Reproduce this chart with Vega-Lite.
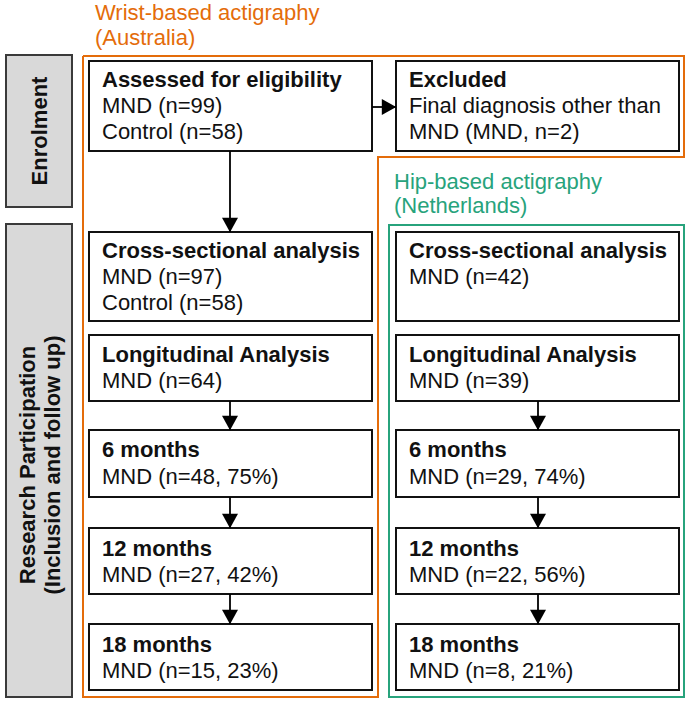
{
  "$schema": "https://vega.github.io/schema/vega-lite/v6.json",
  "width": 685,
  "height": 707,
  "padding": 0,
  "autosize": {"type": "none"},
  "background": "white",
  "config": {"view": {"stroke": null}},
  "datasets": {
    "outline": [
      {"k": 0, "x": 83, "y": 56},
      {"k": 1, "x": 684, "y": 56},
      {"k": 2, "x": 684, "y": 157},
      {"k": 3, "x": 378, "y": 157},
      {"k": 4, "x": 378, "y": 697},
      {"k": 5, "x": 83, "y": 697},
      {"k": 6, "x": 83, "y": 56}
    ],
    "regions": [
      {"region": "hip", "x1": 389, "x2": 684, "y1": 225, "y2": 697}
    ],
    "panels": [
      {"name": "Enrolment", "x1": 6, "x2": 72, "y1": 55, "y2": 207},
      {"name": "Research", "x1": 6, "x2": 72, "y1": 224, "y2": 697}
    ],
    "boxes": [
      {"name": "Assessed", "x1": 89, "x2": 372, "y1": 61, "y2": 151},
      {"name": "Excluded", "x1": 396, "x2": 679, "y1": 61, "y2": 151},
      {"name": "CS wrist", "x1": 89, "x2": 372, "y1": 232, "y2": 321},
      {"name": "Long wrist", "x1": 89, "x2": 372, "y1": 335, "y2": 401},
      {"name": "6m wrist", "x1": 89, "x2": 372, "y1": 430, "y2": 497},
      {"name": "12m wrist", "x1": 89, "x2": 372, "y1": 528, "y2": 594},
      {"name": "18m wrist", "x1": 89, "x2": 372, "y1": 624, "y2": 690},
      {"name": "CS hip", "x1": 396, "x2": 679, "y1": 232, "y2": 321},
      {"name": "Long hip", "x1": 396, "x2": 679, "y1": 335, "y2": 401},
      {"name": "6m hip", "x1": 396, "x2": 679, "y1": 430, "y2": 497},
      {"name": "12m hip", "x1": 396, "x2": 679, "y1": 528, "y2": 594},
      {"name": "18m hip", "x1": 396, "x2": 679, "y1": 624, "y2": 690}
    ],
    "arrows": [
      {"dir": "down", "x1": 230, "y1": 151, "x2": 230, "y2": 232},
      {"dir": "down", "x1": 230, "y1": 401, "x2": 230, "y2": 430},
      {"dir": "down", "x1": 230, "y1": 497, "x2": 230, "y2": 528},
      {"dir": "down", "x1": 230, "y1": 594, "x2": 230, "y2": 624},
      {"dir": "down", "x1": 538, "y1": 401, "x2": 538, "y2": 430},
      {"dir": "down", "x1": 538, "y1": 497, "x2": 538, "y2": 528},
      {"dir": "down", "x1": 538, "y1": 594, "x2": 538, "y2": 624},
      {"dir": "right", "x1": 372, "y1": 107, "x2": 396, "y2": 107}
    ],
    "labels": [
      {"role": "wrist", "text": "Wrist-based actigraphy", "x": 95, "y": 20},
      {"role": "wrist", "text": "(Australia)", "x": 95, "y": 45},
      {"role": "hip", "text": "Hip-based actigraphy", "x": 394, "y": 189},
      {"role": "hip", "text": "(Netherlands)", "x": 394, "y": 213},
      {"role": "title", "text": "Assessed for eligibility", "x": 102, "y": 87},
      {"role": "body", "text": "MND (n=99)", "x": 102, "y": 113},
      {"role": "body", "text": "Control (n=58)", "x": 102, "y": 139},
      {"role": "title", "text": "Excluded", "x": 409, "y": 87},
      {"role": "body", "text": "Final diagnosis other than", "x": 409, "y": 113},
      {"role": "body", "text": "MND (MND, n=2)", "x": 409, "y": 139},
      {"role": "title", "text": "Cross-sectional analysis", "x": 102, "y": 258},
      {"role": "body", "text": "MND (n=97)", "x": 102, "y": 284},
      {"role": "body", "text": "Control (n=58)", "x": 102, "y": 310},
      {"role": "title", "text": "Longitudinal Analysis", "x": 102, "y": 362},
      {"role": "body", "text": "MND (n=64)", "x": 102, "y": 388},
      {"role": "title", "text": "6 months", "x": 102, "y": 457},
      {"role": "body", "text": "MND (n=48, 75%)", "x": 102, "y": 484},
      {"role": "title", "text": "12 months", "x": 102, "y": 556},
      {"role": "body", "text": "MND (n=27, 42%)", "x": 102, "y": 582},
      {"role": "title", "text": "18 months", "x": 102, "y": 652},
      {"role": "body", "text": "MND (n=15, 23%)", "x": 102, "y": 678},
      {"role": "title", "text": "Cross-sectional analysis", "x": 409, "y": 258},
      {"role": "body", "text": "MND (n=42)", "x": 409, "y": 284},
      {"role": "title", "text": "Longitudinal Analysis", "x": 409, "y": 362},
      {"role": "body", "text": "MND (n=39)", "x": 409, "y": 388},
      {"role": "title", "text": "6 months", "x": 409, "y": 457},
      {"role": "body", "text": "MND (n=29, 74%)", "x": 409, "y": 484},
      {"role": "title", "text": "12 months", "x": 409, "y": 556},
      {"role": "body", "text": "MND (n=22, 56%)", "x": 409, "y": 582},
      {"role": "title", "text": "18 months", "x": 409, "y": 652},
      {"role": "body", "text": "MND (n=8, 21%)", "x": 409, "y": 678}
    ],
    "side": [
      {"text": "Enrolment", "x": 40, "y": 131},
      {"text": "Research Participation", "x": 27.5, "y": 465},
      {"text": "(Inclusion and follow up)", "x": 53, "y": 465}
    ]
  },
  "layer": [
    {
      "data": {"name": "outline"},
      "mark": {"type": "line", "stroke": "#E46C0A", "strokeWidth": 2, "strokeJoin": "miter"},
      "encoding": {
        "x": {"field": "x", "type": "quantitative", "scale": {"domain": [0, 685], "nice": false, "zero": false}, "axis": null},
        "y": {"field": "y", "type": "quantitative", "scale": {"domain": [0, 707], "nice": false, "zero": false, "reverse": true}, "axis": null},
        "order": {"field": "k"}
      }
    },
    {
      "data": {"name": "regions"},
      "mark": {"type": "rect", "fill": null, "fillOpacity": 0, "stroke": "#27A37C", "strokeWidth": 2},
      "encoding": {
        "x": {"field": "x1", "type": "quantitative", "scale": {"domain": [0, 685], "nice": false, "zero": false}, "axis": null},
        "x2": {"field": "x2"},
        "y": {"field": "y1", "type": "quantitative", "scale": {"domain": [0, 707], "nice": false, "zero": false, "reverse": true}, "axis": null},
        "y2": {"field": "y2"}
      }
    },
    {
      "data": {"name": "panels"},
      "mark": {"type": "rect", "fill": "#d9d9d9", "stroke": "#3a3a3a", "strokeWidth": 2},
      "encoding": {
        "x": {"field": "x1", "type": "quantitative", "scale": {"domain": [0, 685], "nice": false, "zero": false}, "axis": null},
        "x2": {"field": "x2"},
        "y": {"field": "y1", "type": "quantitative", "scale": {"domain": [0, 707], "nice": false, "zero": false, "reverse": true}, "axis": null},
        "y2": {"field": "y2"}
      }
    },
    {
      "data": {"name": "boxes"},
      "mark": {"type": "rect", "fill": "white", "stroke": "#111111", "strokeWidth": 2},
      "encoding": {
        "x": {"field": "x1", "type": "quantitative", "scale": {"domain": [0, 685], "nice": false, "zero": false}, "axis": null},
        "x2": {"field": "x2"},
        "y": {"field": "y1", "type": "quantitative", "scale": {"domain": [0, 707], "nice": false, "zero": false, "reverse": true}, "axis": null},
        "y2": {"field": "y2"}
      }
    },
    {
      "data": {"name": "arrows"},
      "mark": {"type": "rule", "stroke": "black", "strokeWidth": 1.8},
      "encoding": {
        "x": {"field": "x1", "type": "quantitative", "scale": {"domain": [0, 685], "nice": false, "zero": false}, "axis": null},
        "x2": {"field": "x2"},
        "y": {"field": "y1", "type": "quantitative", "scale": {"domain": [0, 707], "nice": false, "zero": false, "reverse": true}, "axis": null},
        "y2": {"field": "y2"}
      }
    },
    {
      "data": {"name": "arrows"},
      "transform": [{"filter": "datum.dir === 'down'"}],
      "mark": {"type": "point", "filled": true, "fill": "black", "stroke": null, "opacity": 1, "size": 256, "shape": "M-1,-0.9L1,-0.9L0,0.9Z", "yOffset": -7},
      "encoding": {
        "x": {"field": "x2", "type": "quantitative", "scale": {"domain": [0, 685], "nice": false, "zero": false}, "axis": null},
        "y": {"field": "y2", "type": "quantitative", "scale": {"domain": [0, 707], "nice": false, "zero": false, "reverse": true}, "axis": null}
      }
    },
    {
      "data": {"name": "arrows"},
      "transform": [{"filter": "datum.dir === 'right'"}],
      "mark": {"type": "point", "filled": true, "fill": "black", "stroke": null, "opacity": 1, "size": 256, "shape": "M-0.9,-1L0.9,0L-0.9,1Z", "xOffset": -7},
      "encoding": {
        "x": {"field": "x2", "type": "quantitative", "scale": {"domain": [0, 685], "nice": false, "zero": false}, "axis": null},
        "y": {"field": "y2", "type": "quantitative", "scale": {"domain": [0, 707], "nice": false, "zero": false, "reverse": true}, "axis": null}
      }
    },
    {
      "data": {"name": "labels"},
      "transform": [{"filter": "datum.role !== 'title'"}],
      "mark": {"type": "text", "align": "left", "baseline": "alphabetic", "font": "Liberation Sans, Arial, sans-serif", "fontSize": 22},
      "encoding": {
        "x": {"field": "x", "type": "quantitative", "scale": {"domain": [0, 685], "nice": false, "zero": false}, "axis": null},
        "y": {"field": "y", "type": "quantitative", "scale": {"domain": [0, 707], "nice": false, "zero": false, "reverse": true}, "axis": null},
        "text": {"field": "text"},
        "color": {"field": "role", "type": "nominal", "legend": null, "scale": {"domain": ["body", "wrist", "hip"], "range": ["#111111", "#E46C0A", "#27A37C"]}}
      }
    },
    {
      "data": {"name": "labels"},
      "transform": [{"filter": "datum.role === 'title'"}],
      "mark": {"type": "text", "align": "left", "baseline": "alphabetic", "font": "Liberation Sans, Arial, sans-serif", "fontSize": 22, "fontWeight": "bold", "fill": "#111111"},
      "encoding": {
        "x": {"field": "x", "type": "quantitative", "scale": {"domain": [0, 685], "nice": false, "zero": false}, "axis": null},
        "y": {"field": "y", "type": "quantitative", "scale": {"domain": [0, 707], "nice": false, "zero": false, "reverse": true}, "axis": null},
        "text": {"field": "text"}
      }
    },
    {
      "data": {"name": "side"},
      "mark": {"type": "text", "align": "center", "baseline": "middle", "angle": 270, "font": "Liberation Sans, Arial, sans-serif", "fontSize": 22, "fontWeight": "bold", "fill": "#111111"},
      "encoding": {
        "x": {"field": "x", "type": "quantitative", "scale": {"domain": [0, 685], "nice": false, "zero": false}, "axis": null},
        "y": {"field": "y", "type": "quantitative", "scale": {"domain": [0, 707], "nice": false, "zero": false, "reverse": true}, "axis": null},
        "text": {"field": "text"}
      }
    }
  ]
}
